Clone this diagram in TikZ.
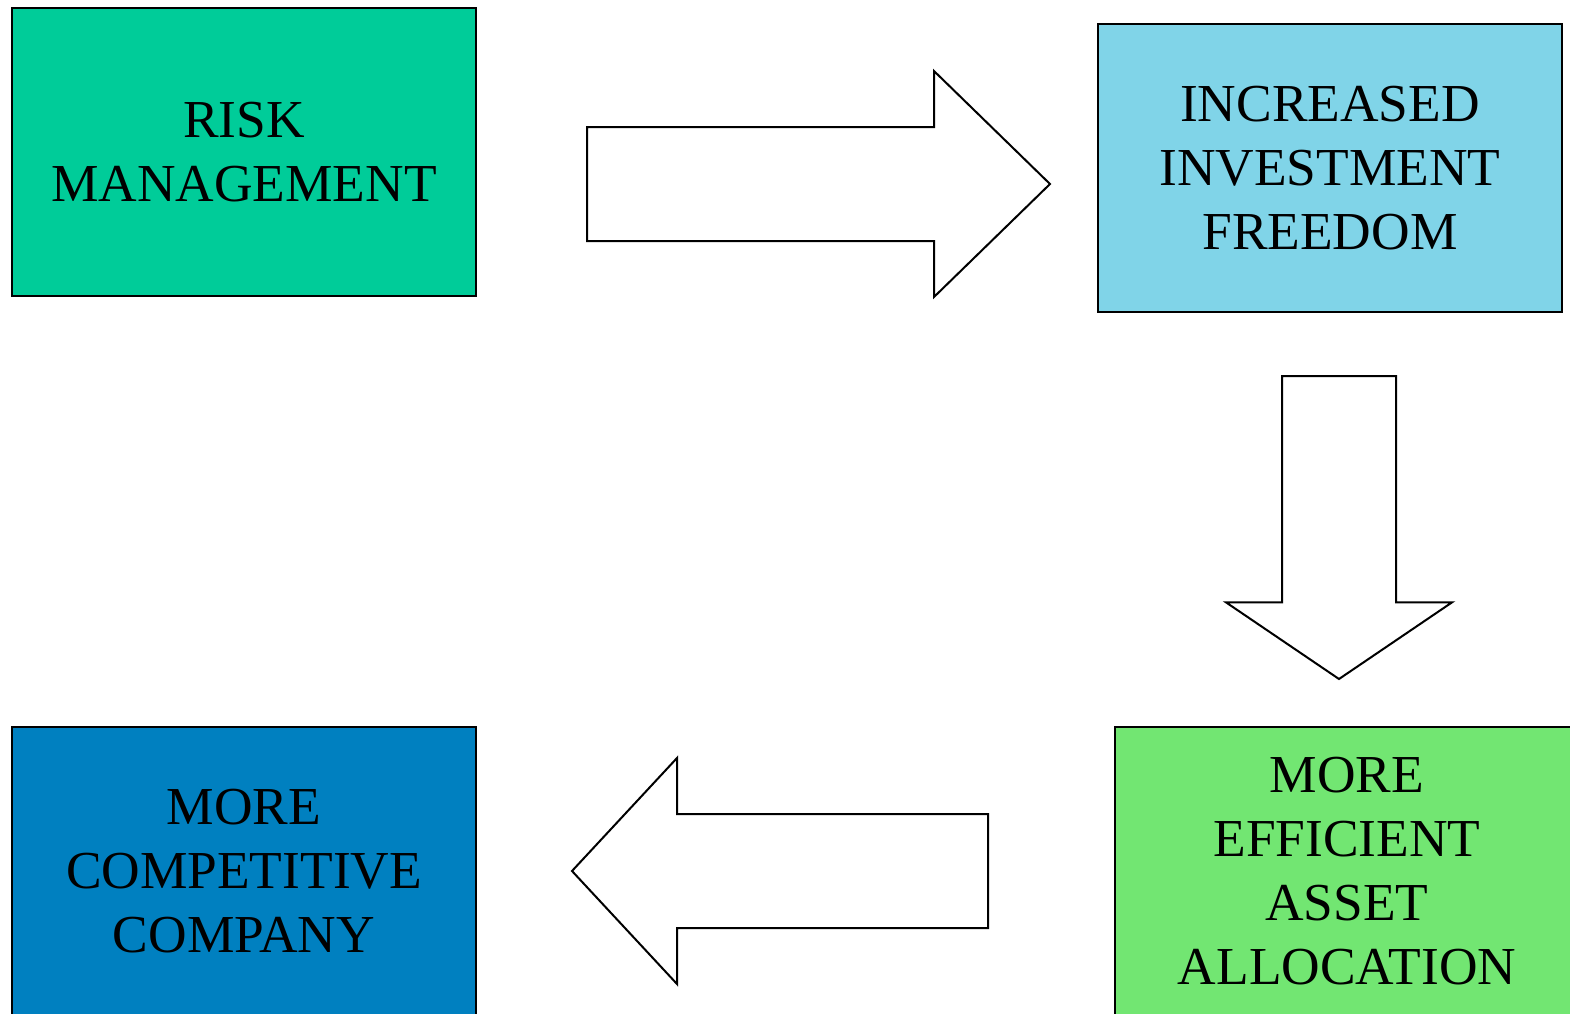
\documentclass[tikz,border=0pt]{standalone}
\usepackage{fontspec}
\setmainfont{Liberation Serif}
\usetikzlibrary{positioning,shapes.arrows}

\definecolor{riskgreen}{HTML}{00CC99}
\definecolor{freeblue}{HTML}{80D4E8}
\definecolor{allocgreen}{HTML}{72E672}
\definecolor{compblue}{HTML}{0080C0}

\begin{document}
\begin{tikzpicture}
    [
      x=0.5pt, y=-0.5pt,
      line width=1pt,
      my box/.style={rectangle, draw, minimum width=232pt, minimum height=144pt, inner sep=0pt, outer sep=0pt, align=center, font=\fontsize{26.7}{32}\selectfont},
      my arrow/.style={single arrow, draw, fill=white, inner xsep=0pt, inner ysep=28pt, single arrow head extend=28pt, outer sep=0pt, anchor=tip}
    ]
    \useasboundingbox (0,0) rectangle (1570,1013);
    \node (risk) [my box, fill=riskgreen, anchor=north west] at (12,8) {RISK\\MANAGEMENT};
    \node (freedom) [my box, fill=freeblue, right=311pt of risk, yshift=-8pt] {INCREASED\\INVESTMENT\\FREEDOM};
    \node (company) [my box, fill=compblue, below=215.5pt of risk] {MORE\\COMPETITIVE\\COMPANY};
    \node (alloc) [my box, fill=allocgreen, right=319.5pt of company] {MORE\\EFFICIENT\\ASSET\\ALLOCATION};
    \node (a1) [my arrow, minimum height=231.5pt, single arrow tip angle=88.5] at (1050,184) {};
    \node (a2) [my arrow, inner xsep=28pt, inner ysep=0pt, minimum height=151.5pt, single arrow tip angle=111.7, shape border rotate=270] at (1339,679) {};
    \node (a3) [my arrow, minimum height=208pt, single arrow tip angle=94.2, shape border rotate=180] at (572,871) {};
  \end{tikzpicture}
\end{document}
